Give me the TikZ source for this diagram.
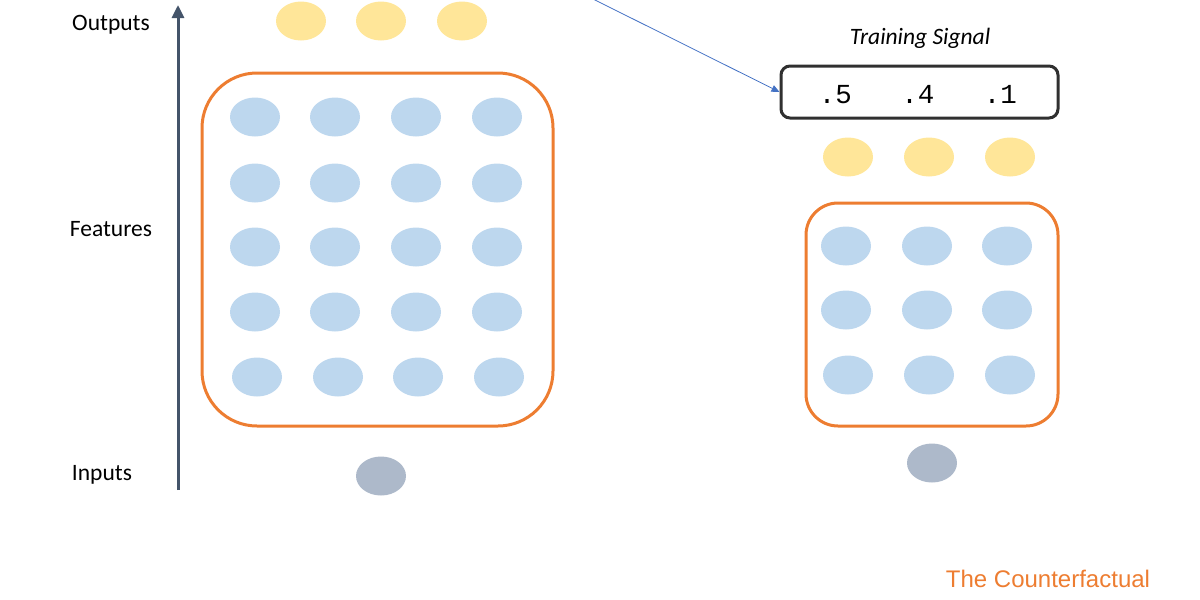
\documentclass[tikz,border=0pt]{standalone}
\usepackage{fontspec}
\setmainfont{Carlito}
\newfontfamily\arialf{Liberation Sans}
\newfontfamily\monof{Liberation Mono}
\usetikzlibrary{arrows.meta,shapes.geometric}
\definecolor{outyel}{HTML}{FFE699}
\definecolor{featblue}{HTML}{BDD7EE}
\definecolor{ingray}{HTML}{ADB9CA}
\definecolor{orng}{HTML}{ED7D31}
\definecolor{slate}{HTML}{44546A}
\definecolor{boxdark}{HTML}{303030}
\definecolor{linkblue}{HTML}{4472C4}
\tikzset{
  dot/.style={ellipse, minimum width=50pt, minimum height=39pt, inner sep=0pt, draw=none},
  outdot/.style={dot, fill=outyel},
  featdot/.style={dot, fill=featblue},
  indot/.style={dot, fill=ingray},
  group/.style={draw=orng, line width=3pt},
  lbl/.style={font=\fontsize{23.5}{28}\selectfont, anchor=base, inner sep=0pt},
}
\begin{document}
\begin{tikzpicture}[x=1pt,y=-1pt]
\useasboundingbox (0,0) rectangle (1200,600);
% left column axis
\coordinate (axbot) at (178,490);
\coordinate (axtop) at (178,5);
\draw[slate, line width=3pt, -{Triangle[width=12pt,length=13pt]}] (axbot) -- (axtop);
\node[lbl] (louts) at (111,30) {Outputs};
\node[lbl] (lfeat) at (111,236) {Features};
\node[lbl] (linp) at (102,480) {Inputs};
% left outputs
\foreach \x [count=\i] in {301,381,462} {\node[outdot] (lo\i) at (\x,21) {};}
% left features
\draw[group, rounded corners=55pt] (202,73) rectangle (553,426);
\foreach \y [count=\r] in {117,183,247,312} {
  \foreach \x [count=\c] in {255,335,416,497} {\node[featdot] (lf\r\c) at (\x,\y) {};}
}
\foreach \x [count=\c] in {257,338,418,499} {\node[featdot] (lf5\c) at (\x,377) {};}
\node[indot] (lin) at (381,476) {};
% right column
\node[lbl, font=\fontsize{23.5}{28}\selectfont\itshape] (tsig) at (920,44) {Training Signal};
\node[draw=boxdark, line width=3pt, rounded corners=9pt, minimum width=277pt, minimum height=52pt, inner sep=0pt] (sigbox) at (919.5,92) {};
\node[font=\monof\fontsize{27.5}{32}\selectfont, anchor=base, inner sep=0pt] (sigtxt) at (918,103) {.5\ \ \ .4\ \ \ .1};
\coordinate (linkstart) at (593,-1);
\draw[linkblue, line width=0.8pt, -{Triangle[width=7pt,length=8pt]}] (linkstart) -- (sigbox.west);
\foreach \x [count=\i] in {848,929,1010} {\node[outdot] (ro\i) at (\x,157) {};}
\draw[group, rounded corners=32pt] (806,203) rectangle (1058,426);
\foreach \y [count=\r] in {246,310} {
  \foreach \x [count=\c] in {846,927,1007} {\node[featdot] (rf\r\c) at (\x,\y) {};}
}
\foreach \x [count=\c] in {848,929,1010} {\node[featdot] (rf3\c) at (\x,375) {};}
\node[indot] (rin) at (932,463) {};
% brand
\node[font=\arialf\fontsize{24}{28}\selectfont, text=orng, anchor=base, inner sep=0pt] (brand) at (1048,587) {The Counterfactual};
\end{tikzpicture}
\end{document}
